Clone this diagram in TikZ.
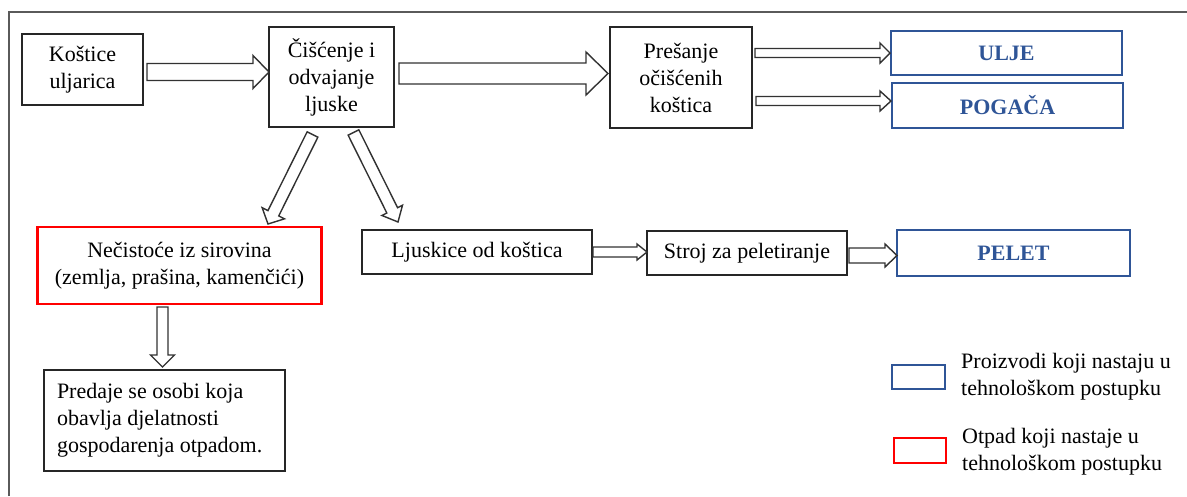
\documentclass[tikz,border=0pt]{standalone}
\usepackage{fontspec}
\setmainfont{Liberation Serif}
\usetikzlibrary{calc}
\definecolor{prodBlue}{RGB}{47,85,151}
\definecolor{wasteRed}{RGB}{255,0,0}
\definecolor{frameGray}{RGB}{90,90,90}
\definecolor{arrGray}{RGB}{50,50,50}
\tikzset{
  txt/.style={font=\fontsize{22}{27}\selectfont},
  box/.style={txt, draw=black!85, line width=1.4pt, fill=white, inner sep=0pt, outer sep=0pt, align=center},
  prodbox/.style={draw=prodBlue, line width=2.6pt, inner sep=0pt, outer sep=0pt, text=prodBlue, font=\bfseries\fontsize{22}{27}\selectfont},
  wastebox/.style={box, draw=wasteRed, line width=2.6pt},
  barrow/.style={draw=arrGray, line width=1.4pt, fill=white, line join=miter},
  legtext/.style={txt, anchor=west, align=left, inner sep=0pt},
}
% #1 start, #2 tip, #3 shaft half width, #4 head half width, #5 head length
\newcommand\blockarrow[5]{%
  \coordinate (ba-h) at ($(#2)!#5pt!(#1)$);
  \draw[barrow] ($(#1)!#3pt!90:(#2)$) -- ($(ba-h)!#3pt!-90:(#1)$) -- ($(ba-h)!#4pt!-90:(#1)$)
    -- (#2) -- ($(ba-h)!#4pt!90:(#1)$) -- ($(ba-h)!#3pt!90:(#1)$) -- ($(#1)!#3pt!-90:(#2)$) -- cycle;
}
\begin{document}
\begin{tikzpicture}[x=1pt,y=1pt]
\useasboundingbox (0,0) rectangle (1187,-496);
% frame
\coordinate (fr-bl) at (8.5,-496);
\coordinate (fr-tl) at (8.5,-12);
\coordinate (fr-tr) at (1187,-12);
\draw[frameGray, line width=2pt] (fr-bl) -- (fr-tl) -- (fr-tr);

% boxes
\node[box, minimum width=121pt, minimum height=71pt] (kost) at (82.5,-69.5) {Koštice\\uljarica};
\node[box, minimum width=125pt, minimum height=100pt] (cis) at (331.5,-77) {Čišćenje i\\odvajanje\\ljuske};
\node[box, minimum width=142pt, minimum height=101pt] (pres) at (681,-77.5) {Prešanje\\očišćenih\\koštica};
\node[prodbox, minimum width=231pt, minimum height=44pt] (ulje) at (1006.5,-53) {ULJE};
\node[prodbox, minimum width=231pt, minimum height=45pt] (pog) at (1007.5,-105.5) {POGAČA};
\node[wastebox, minimum width=284pt, minimum height=77pt] (nec) at (179.5,-265.5) {Nečistoće iz sirovina\\(zemlja, prašina, kamenčići)};
\node[box, minimum width=230pt, minimum height=44pt] (ljus) at (477,-252) {Ljuskice od koštica};
\node[box, minimum width=200pt, minimum height=44pt] (stroj) at (747,-253) {Stroj za peletiranje};
\node[prodbox, minimum width=233pt, minimum height=46pt] (pelet) at (1013.5,-253) {PELET};
\node[box, align=flush left, text width=215pt, inner xsep=13pt, minimum height=101pt] (pred) at (164.5,-420.5)
  {Predaje se osobi koja\\obavlja djelatnosti\\gospodarenja otpadom.};

% legend
\node[prodbox, minimum width=53pt, minimum height=24pt] (legB) at (918.5,-377) {};
\node[legtext] (legBt) at (961,-376.5) {Proizvodi koji nastaju u\\tehnološkom postupku};
\node[wastebox, minimum width=52pt, minimum height=25pt] (legR) at (920,-450.5) {};
\node[legtext] (legRt) at (962,-451.5) {Otpad koji nastaje u\\tehnološkom postupku};

% arrow end points
\coordinate (a1s) at ($(kost.east)+(4,-2.5)$);
\coordinate (a1e) at ($(cis.west)+(0,5)$);
\coordinate (a2s) at ($(cis.east)+(5,3.5)$);
\coordinate (a2e) at ($(pres.west)+(-2,4)$);
\coordinate (a3s) at ($(pres.east)+(3,24.5)$);
\coordinate (a3e) at ($(ulje.west)+(-1,0)$);
\coordinate (a4s) at ($(pres.east)+(4,-23.5)$);
\coordinate (a4e) at ($(pog.west)+(-1,4.5)$);
\coordinate (a5s) at ($(ljus.east)+(1,0)$);
\coordinate (a5e) at ($(stroj.west)+(0,1)$);
\coordinate (a6s) at ($(stroj.east)+(2,-2.5)$);
\coordinate (a6e) at ($(pelet.west)+(0,-2.5)$);
\coordinate (a7s) at ($(nec.south)+(-17,-3)$);
\coordinate (a7e) at ($(pred.north)+(-2,3)$);
\coordinate (a8s) at ($(cis.south)+(-19,-7.5)$);
\coordinate (a8e) at ($(nec.north)+(88.5,3)$);
\coordinate (a9s) at ($(cis.south)+(22,-5.5)$);
\coordinate (a9e) at ($(ljus.north)+(-79,8)$);

% block arrows
\blockarrow{a1s}{a1e}{8.5}{16.5}{16}
\blockarrow{a2s}{a2e}{10.5}{21.5}{22}
\blockarrow{a3s}{a3e}{4.5}{10}{10}
\blockarrow{a4s}{a4e}{4.5}{10}{11}
\blockarrow{a5s}{a5e}{5}{8}{10}
\blockarrow{a6s}{a6e}{7.5}{11.5}{12}
\blockarrow{a7s}{a7e}{5.5}{12}{12}
\blockarrow{a8s}{a8e}{6}{12.5}{12}
\blockarrow{a9s}{a9e}{6}{11.5}{13}
\end{tikzpicture}
\end{document}
